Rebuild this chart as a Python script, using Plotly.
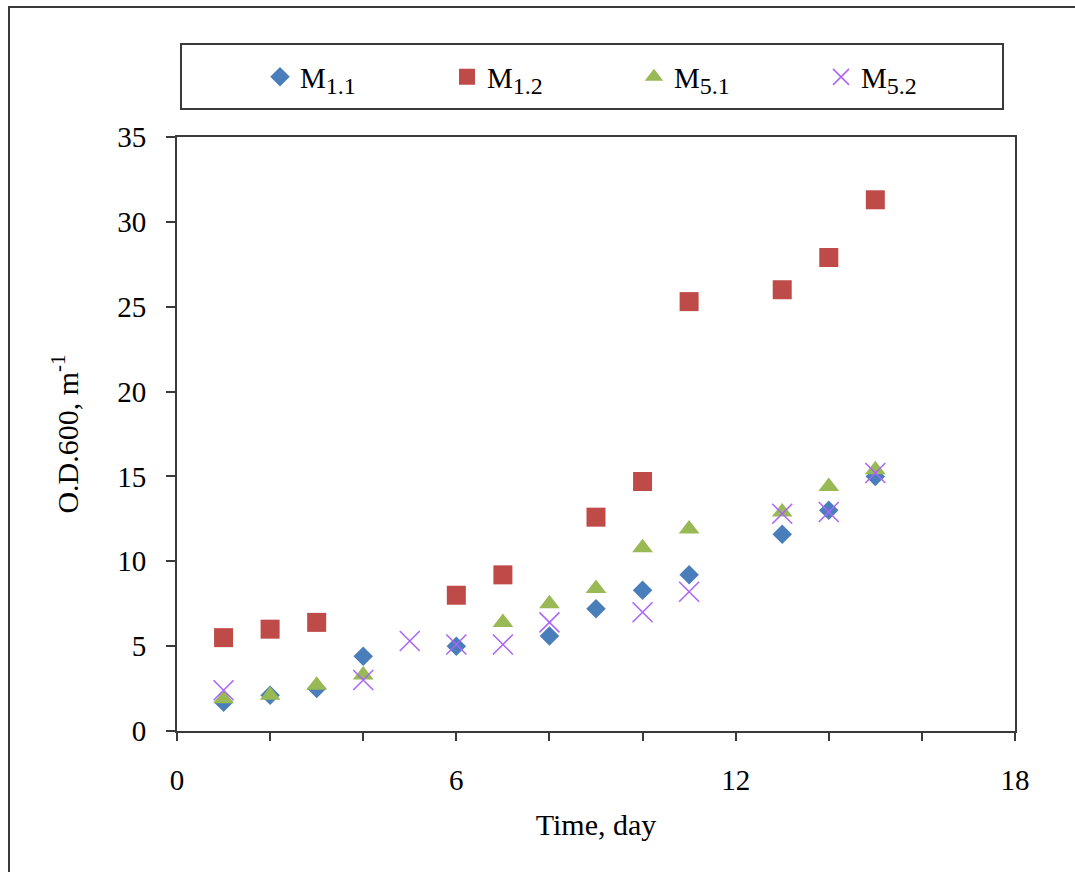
import plotly.graph_objects as go

# Optical density (O.D.600) of four cultures over time
days_m11 = [1, 2, 3, 4, 6, 8, 9, 10, 11, 13, 14, 15]
od_m11 = [1.7, 2.1, 2.5, 4.4, 5.0, 5.6, 7.2, 8.3, 9.2, 11.6, 13.0, 15.0]

days_m12 = [1, 2, 3, 6, 7, 9, 10, 11, 13, 14, 15]
od_m12 = [5.5, 6.0, 6.4, 8.0, 9.2, 12.6, 14.7, 25.3, 26.0, 27.9, 31.3]

days_m51 = [1, 2, 3, 4, 7, 8, 9, 10, 11, 13, 14, 15]
od_m51 = [1.9, 2.1, 2.7, 3.3, 6.4, 7.5, 8.4, 10.8, 11.9, 12.9, 14.4, 15.4]

days_m52 = [1, 4, 5, 6, 7, 8, 10, 11, 13, 14, 15]
od_m52 = [2.4, 3.0, 5.3, 5.1, 5.1, 6.4, 7.0, 8.2, 12.8, 12.9, 15.2]

x_ticks = [0, 6, 12, 18]
y_ticks = [0, 5, 10, 15, 20, 25, 30, 35]

SERIF = "Liberation Serif, Times New Roman, serif"
AXIS_COLOR = "#3a3a3a"


def sub_label(base, index):
    return f"{base}<sub><span style='font-size:24px'>{index}</span></sub>"


fig = go.Figure()
fig.add_trace(go.Scatter(
    x=days_m11, y=od_m11, mode="markers", name=sub_label("M", "1.1"),
    marker=dict(symbol="diamond", size=15, color="#4A7EBB"),
))
fig.add_trace(go.Scatter(
    x=days_m12, y=od_m12, mode="markers", name=sub_label("M", "1.2"),
    marker=dict(symbol="square", size=19, color="#BE4B48"),
))
fig.add_trace(go.Scatter(
    x=days_m51, y=od_m51, mode="markers", name=sub_label("M", "5.1"),
    marker=dict(symbol="triangle-up", size=18, color="#98B954"),
))
fig.add_trace(go.Scatter(
    x=days_m52, y=od_m52, mode="markers", name=sub_label("M", "5.2"),
    marker=dict(symbol="x-thin-open", size=20,
                line=dict(color="#A797CA", width=1.5)),
))

W, H = 1075, 872
L, R, T, B = 177, 60, 137, 141
pw, ph = W - L - R, H - T - B


def px_x(p):
    return (p - L) / pw


def px_y(p):
    return (H - B - p) / ph


fig.update_layout(
    width=W, height=H,
    margin=dict(l=L, r=R, t=T, b=B),
    paper_bgcolor="white", plot_bgcolor="white",
    font=dict(family=SERIF, size=29, color="black"),
    showlegend=True,
    legend=dict(
        orientation="h",
        x=px_x(260), xanchor="left",
        y=px_y(77), yanchor="middle",
        entrywidth=142, entrywidthmode="pixels",
        font=dict(family=SERIF, size=29, color="black"),
        bgcolor="rgba(0,0,0,0)", borderwidth=0,
        itemclick=False,
    ),
    xaxis=dict(
        range=[0, 18], tickmode="array", tickvals=x_ticks,
        ticks="outside", ticklen=8, tickwidth=2, tickcolor=AXIS_COLOR,
        minor=dict(dtick=2, tick0=0, ticks="outside", ticklen=8,
                   tickwidth=2, tickcolor=AXIS_COLOR, showgrid=False),
        showline=True, linecolor=AXIS_COLOR, linewidth=2, mirror=True,
        showgrid=False, zeroline=False,
        tickfont=dict(family=SERIF, size=29),
        ticklabelstandoff=14,
        title=dict(text="Time, day", font=dict(family=SERIF, size=30),
                   standoff=19),
    ),
    yaxis=dict(
        range=[0, 35], tickmode="array", tickvals=y_ticks,
        ticks="outside", ticklen=9, tickwidth=2, tickcolor=AXIS_COLOR,
        showline=True, linecolor=AXIS_COLOR, linewidth=2, mirror=True,
        showgrid=False, zeroline=False,
        tickfont=dict(family=SERIF, size=29),
        ticklabelstandoff=14,
        title=dict(text="O.D.600, m<sup>-1</sup>",
                   font=dict(family=SERIF, size=30), standoff=30),
    ),
    shapes=[
        # outer chart frame
        dict(type="rect", xref="paper", yref="paper",
             x0=px_x(9), x1=px_x(1090), y0=px_y(890), y1=px_y(7),
             line=dict(color=AXIS_COLOR, width=2), fillcolor="rgba(0,0,0,0)",
             layer="below"),
        # legend frame
        dict(type="rect", xref="paper", yref="paper",
             x0=px_x(181), x1=px_x(1003), y0=px_y(109), y1=px_y(44),
             line=dict(color=AXIS_COLOR, width=2), fillcolor="rgba(0,0,0,0)"),
    ],
)

fig.write_html("out.html")
